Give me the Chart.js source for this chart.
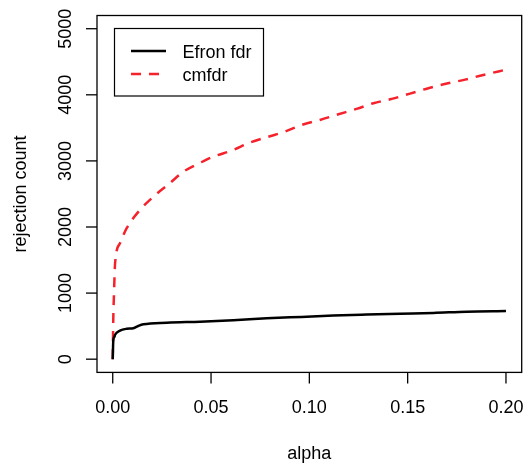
<!DOCTYPE html>
<html>
<head>
<meta charset="utf-8">
<script src="https://cdn.jsdelivr.net/npm/chart.js@4"></script>
<style>
  html, body { margin: 0; padding: 0; background: #fff; }
  #wrap { width: 526px; height: 463px; }
</style>
</head>
<body>
<div id="wrap"><canvas id="ichart" width="526" height="463"></canvas></div>
<script>
// Data
const efronAlpha = [0, 0.0003, 0.0008, 0.0012, 0.0037, 0.0071, 0.0105, 0.013, 0.0156, 0.0275, 0.0444, 0.0613, 0.0783, 0.096, 0.1122, 0.1292, 0.1461, 0.1631, 0.18, 0.2];
const efronCount = [0, 290, 335, 370, 433, 460, 469, 502, 527, 552, 568, 590, 618, 640, 660, 675, 688, 700, 718, 728];

const cmfdrAlpha = [0, 0.0003, 0.0006, 0.0012, 0.0037, 0.0071, 0.0139, 0.0207, 0.029, 0.036, 0.0444, 0.0512, 0.0605, 0.0698, 0.0783, 0.0876, 0.0961, 0.1054, 0.1148, 0.124, 0.1326, 0.1419, 0.1512, 0.1605, 0.1699, 0.1792, 0.1885, 0.2];
const cmfdrCount = [0, 644, 950, 1452, 1755, 1982, 2259, 2460, 2663, 2838, 2970, 3065, 3156, 3277, 3358, 3443, 3545, 3620, 3706, 3787, 3873, 3938, 4018, 4100, 4170, 4230, 4301, 4380];

const xTicks = [0, 0.05, 0.10, 0.15, 0.20];
const xTickLabels = ["0.00", "0.05", "0.10", "0.15", "0.20"];
const yTicks = [0, 1000, 2000, 3000, 4000, 5000];
const yTickLabels = ["0", "1000", "2000", "3000", "4000", "5000"];

const seriesNames = ["Efron fdr", "cmfdr"];

const FONT = '18px "Liberation Sans", Arial, sans-serif';

function toPoints(xs, ys) {
    const pts = [];
    for (let i = 0; i < xs.length; i++) pts.push({ x: xs[i], y: ys[i] });
    return pts;
}

// R-style box, ticks, labels and legend drawn over the chart
const rPlot = {
    id: "rPlot",
    afterDraw(chart) {
        const ctx = chart.ctx;
        const a = chart.chartArea;
        const xs = chart.scales.x;
        const ys = chart.scales.y;
        ctx.save();
        ctx.strokeStyle = "#000";
        ctx.fillStyle = "#000";
        ctx.lineWidth = 1.3;
        ctx.strokeRect(a.left, a.top, a.right - a.left, a.bottom - a.top);

        ctx.font = FONT;
        ctx.textAlign = "center";
        ctx.textBaseline = "alphabetic";

        //x axis ticks and labels
        xTicks.forEach((v, i) => {
            const px = xs.getPixelForValue(v);
            ctx.beginPath();
            ctx.moveTo(px, a.bottom);
            ctx.lineTo(px, a.bottom + 11);
            ctx.stroke();
            ctx.fillText(xTickLabels[i], px, 413);
        });

        //y axis ticks and rotated labels
        yTicks.forEach((v, i) => {
            const py = ys.getPixelForValue(v);
            ctx.beginPath();
            ctx.moveTo(a.left - 11, py);
            ctx.lineTo(a.left, py);
            ctx.stroke();
            ctx.save();
            ctx.translate(71, py);
            ctx.rotate(-Math.PI / 2);
            ctx.fillText(yTickLabels[i], 0, 0);
            ctx.restore();
        });

        //axis titles
        ctx.fillText("alpha", (a.left + a.right) / 2, 459);
        ctx.save();
        ctx.translate(26, (a.top + a.bottom) / 2);
        ctx.rotate(-Math.PI / 2);
        ctx.fillText("rejection count", 0, 0);
        ctx.restore();

        //legend
        ctx.lineWidth = 1.2;
        ctx.strokeRect(114.5, 28.5, 149, 67.5);
        const rows = [51, 74];
        chart.data.datasets.forEach((ds, i) => {
            ctx.save();
            ctx.strokeStyle = ds.borderColor;
            ctx.lineWidth = ds.borderWidth;
            ctx.setLineDash(ds.borderDash || []);
            ctx.beginPath();
            ctx.moveTo(131, rows[i]);
            ctx.lineTo(166, rows[i]);
            ctx.stroke();
            ctx.restore();
            ctx.textAlign = "left";
            ctx.fillText(ds.label, 182.5, rows[i] + 7);
        });
        ctx.restore();
    }
};

new Chart("ichart", {
    type: "line",
    data: {
        datasets: [
            {
                label: seriesNames[0],
                data: toPoints(efronAlpha, efronCount),
                borderColor: "#000000",
                borderWidth: 2.5,
                pointRadius: 0,
                cubicInterpolationMode: "monotone"
            },
            {
                label: seriesNames[1],
                data: toPoints(cmfdrAlpha, cmfdrCount),
                borderColor: "#f5222b",
                borderWidth: 2.5,
                borderDash: [10, 8],
                pointRadius: 0,
                cubicInterpolationMode: "monotone"
            }
        ]
    },
    options: {
        responsive: false,
        animation: false,
        layout: { padding: { left: 0, right: 4.3, top: 15.5, bottom: 0 } },
        plugins: { legend: { display: false }, tooltip: { enabled: false } },
        scales: {
            x: {
                type: "linear",
                min: -0.008,
                max: 0.208,
                grid: { display: false },
                border: { display: false },
                ticks: { display: false },
                afterFit: (s) => { s.height = 90.6; }
            },
            y: {
                type: "linear",
                min: -200,
                max: 5200,
                grid: { display: false },
                border: { display: false },
                ticks: { display: false },
                afterFit: (s) => { s.width = 97; }
            }
        }
    },
    plugins: [rPlot]
});
</script>
</body>
</html>
